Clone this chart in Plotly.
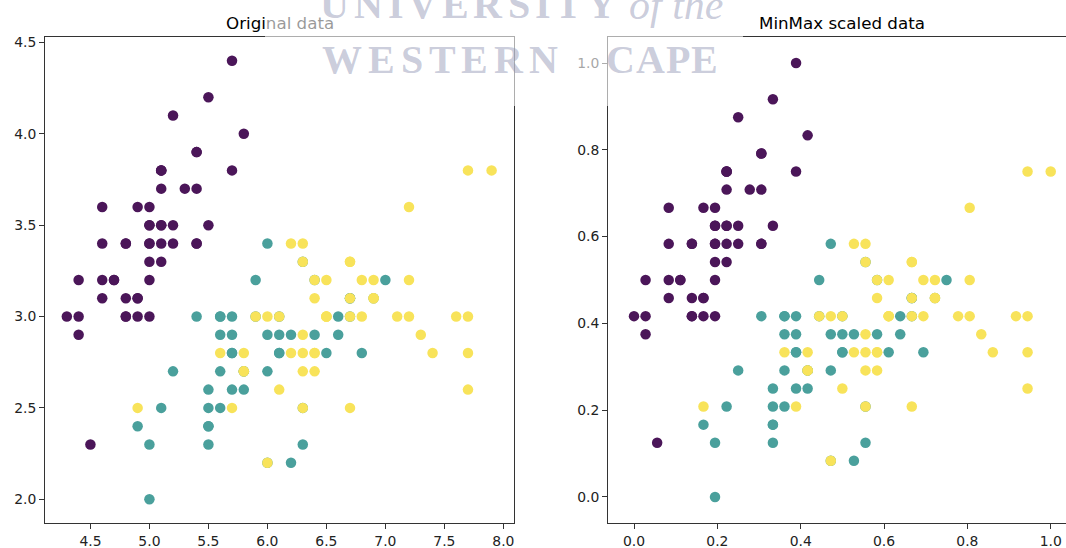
import plotly.graph_objects as go

# ---------------- data (Iris: sepal length / sepal width, class) ----------------
sepal_length = [
    5.1, 4.9, 4.7, 4.6, 5.0, 5.4, 4.6, 5.0, 4.4, 4.9, 5.4, 4.8, 4.8, 4.3, 5.8, 5.7, 5.4, 5.1, 5.7, 5.1,
    5.4, 5.1, 4.6, 5.1, 4.8, 5.0, 5.0, 5.2, 5.2, 4.7, 4.8, 5.4, 5.2, 5.5, 4.9, 5.0, 5.5, 4.9, 4.4, 5.1,
    5.0, 4.5, 4.4, 5.0, 5.1, 4.8, 5.1, 4.6, 5.3, 5.0,
    7.0, 6.4, 6.9, 5.5, 6.5, 5.7, 6.3, 4.9, 6.6, 5.2, 5.0, 5.9, 6.0, 6.1, 5.6, 6.7, 5.6, 5.8, 6.2, 5.6,
    5.9, 6.1, 6.3, 6.1, 6.4, 6.6, 6.8, 6.7, 6.0, 5.7, 5.5, 5.5, 5.8, 6.0, 5.4, 6.0, 6.7, 6.3, 5.6, 5.5,
    5.5, 6.1, 5.8, 5.0, 5.6, 5.7, 5.7, 6.2, 5.1, 5.7,
    6.3, 5.8, 7.1, 6.3, 6.5, 7.6, 4.9, 7.3, 6.7, 7.2, 6.5, 6.4, 6.8, 5.7, 5.8, 6.4, 6.5, 7.7, 7.7, 6.0,
    6.9, 5.6, 7.7, 6.3, 6.7, 7.2, 6.2, 6.1, 6.4, 7.2, 7.4, 7.9, 6.4, 6.3, 6.1, 7.7, 6.3, 6.4, 6.0, 6.9,
    6.7, 6.9, 5.8, 6.8, 6.7, 6.7, 6.3, 6.5, 6.2, 5.9,
]
sepal_width = [
    3.5, 3.0, 3.2, 3.1, 3.6, 3.9, 3.4, 3.4, 2.9, 3.1, 3.7, 3.4, 3.0, 3.0, 4.0, 4.4, 3.9, 3.5, 3.8, 3.8,
    3.4, 3.7, 3.6, 3.3, 3.4, 3.0, 3.4, 3.5, 3.4, 3.2, 3.1, 3.4, 4.1, 4.2, 3.1, 3.2, 3.5, 3.6, 3.0, 3.4,
    3.5, 2.3, 3.2, 3.5, 3.8, 3.0, 3.8, 3.2, 3.7, 3.3,
    3.2, 3.2, 3.1, 2.3, 2.8, 2.8, 3.3, 2.4, 2.9, 2.7, 2.0, 3.0, 2.2, 2.9, 2.9, 3.1, 3.0, 2.7, 2.2, 2.5,
    3.2, 2.8, 2.5, 2.8, 2.9, 3.0, 2.8, 3.0, 2.9, 2.6, 2.4, 2.4, 2.7, 2.7, 3.0, 3.4, 3.1, 2.3, 3.0, 2.5,
    2.6, 3.0, 2.6, 2.3, 2.7, 3.0, 2.9, 2.9, 2.5, 2.8,
    3.3, 2.7, 3.0, 2.9, 3.0, 3.0, 2.5, 2.9, 2.5, 3.6, 3.2, 2.7, 3.0, 2.5, 2.8, 3.2, 3.0, 3.8, 2.6, 2.2,
    3.2, 2.8, 2.8, 2.7, 3.3, 3.2, 2.8, 3.0, 2.8, 3.0, 2.8, 3.8, 2.8, 2.8, 2.6, 3.0, 3.4, 3.1, 3.0, 3.1,
    3.1, 3.1, 2.7, 3.2, 3.3, 3.0, 2.5, 3.0, 3.4, 3.0,
]
species = [0] * 50 + [1] * 50 + [2] * 50

class_colors = ["#4b1659", "#4aa09c", "#f8e35a"]

# MinMax scaling of the same data (the right-hand panel)
xmin, xmax = min(sepal_length), max(sepal_length)
ymin, ymax = min(sepal_width), max(sepal_width)
scaled_length = [(v - xmin) / (xmax - xmin) for v in sepal_length]
scaled_width = [(v - ymin) / (ymax - ymin) for v in sepal_width]

W, H = 1066, 548
def fx(p):
    return p / W
def fy(p):
    return 1 - p / H

colors = [class_colors[c] for c in species]
marker = dict(size=10.5, color=colors, line=dict(width=0))

fig = go.Figure()
fig.add_trace(go.Scatter(x=sepal_length, y=sepal_width, mode="markers", marker=marker,
                         xaxis="x", yaxis="y", showlegend=False, hoverinfo="skip"))
fig.add_trace(go.Scatter(x=scaled_length, y=scaled_width, mode="markers", marker=marker,
                         xaxis="x2", yaxis="y2", showlegend=False, hoverinfo="skip"))

tickfont = dict(family="DejaVu Sans", size=13.9, color="#222222")
common = dict(showline=True, linecolor="#333333", linewidth=1, ticks="outside", ticklen=5,
              tickwidth=1, tickcolor="#333333", showgrid=False, zeroline=False,
              tickfont=tickfont, tickformat=".1f")

fig.update_layout(
    width=W, height=H,
    margin=dict(l=0, r=0, t=0, b=0, autoexpand=False),
    paper_bgcolor="white", plot_bgcolor="white",
    xaxis=dict(domain=[fx(45), fx(514)], range=[4.115, 8.09], dtick=0.5, mirror=True,
               anchor="y", **common),
    yaxis=dict(domain=[fy(523), fy(37)], range=[1.87, 4.53], dtick=0.5, mirror=True,
               anchor="x", **common),
    xaxis2=dict(domain=[fx(608), 1.0], range=[-0.0624, 1.0367], dtick=0.2, mirror=True,
                anchor="y2", **common),
    yaxis2=dict(domain=[fy(523), fy(37)], range=[-0.06, 1.06], dtick=0.2, mirror=False,
                anchor="x2", **common),
)

annotations = []
title_font = dict(family="DejaVu Sans", size=16.7, color="#000000")
annotations.append(dict(text="Original data", x=fx(279.5), y=fy(23), xref="paper", yref="paper",
                        xanchor="center", yanchor="middle", showarrow=False, font=title_font))
annotations.append(dict(text="MinMax scaled data", x=fx(842), y=fy(23), xref="paper", yref="paper",
                        xanchor="center", yanchor="middle", showarrow=False, font=title_font))

# ---- watermark (decoration) ----
annotations.append(dict(text=" ", x=fx(504), y=fy(53), xref="paper", yref="paper",
                        xanchor="center", yanchor="middle", showarrow=False,
                        width=478, height=106, bgcolor="rgba(255,255,255,0.6)",
                        borderpad=0, borderwidth=0))

wm_color = "rgba(139,144,177,0.45)"
wm_size = 40
glyph_w = {"U": .722, "N": .722, "I": .389, "V": .722, "E": .667, "R": .722, "S": .556,
           "T": .667, "Y": .722, "W": 1.0, "C": .722, "A": .722, "P": .611}

def letters(word, start, gap, ycen):
    pos = start
    for ch in word:
        w = glyph_w[ch] * wm_size
        annotations.append(dict(text="<b>%s</b>" % ch, x=fx(pos + w / 2), y=fy(ycen),
                                xref="paper", yref="paper",
                                xanchor="center", yanchor="middle", showarrow=False,
                                font=dict(family="Liberation Serif", size=wm_size, color=wm_color)))
        pos += w + gap

letters("UNIVERSITY", 320, 5, 5)
annotations.append(dict(text="<i>of the</i>", x=fx(627), y=fy(5), xref="paper", yref="paper",
                        xanchor="left", yanchor="middle", showarrow=False,
                        font=dict(family="Liberation Serif", size=wm_size + 2, color=wm_color)))
letters("WESTERN", 322, 6, 59)
letters("CAPE", 606, 1, 59)

fig.update_layout(annotations=annotations)
fig.write_html("out.html", config={"displayModeBar": False},
               post_script="document.body.style.margin='0';")
